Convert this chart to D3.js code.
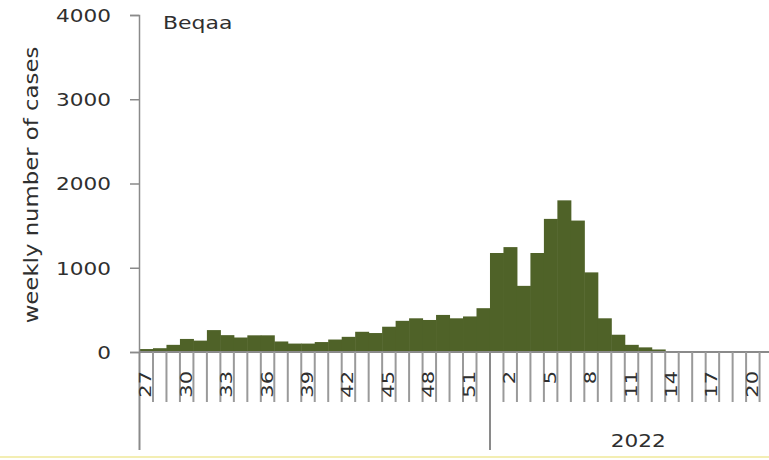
<!DOCTYPE html>
<html>
<head>
<meta charset="utf-8">
<script src="https://cdn.jsdelivr.net/npm/d3@7"></script>
<style>
  body { margin: 0; background: #fff; }
  svg { display: block; }
  text { font-family: "DejaVu Sans", sans-serif; fill: #2f2f2f; }
</style>
</head>
<body>
<div id="chart"></div>
<script>
// weekly cases, Beqaa
const weeks2021 = [27, 28, 29, 30, 31, 32, 33, 34, 35, 36, 37, 38, 39, 40, 41, 42, 43, 44, 45, 46, 47, 48, 49, 50, 51, 52];
const cases2021 = [35, 45, 85, 155, 135, 260, 200, 172, 198, 198, 125, 100, 100, 118, 148, 180, 240, 225, 300, 370, 400, 380, 440, 400, 422, 520];
const weeks2022 = [1, 2, 3, 4, 5, 6, 7, 8, 9, 10, 11, 12, 13, 14, 15, 16, 17, 18, 19, 20, 21, 22];
const cases2022 = [1175, 1245, 785, 1175, 1580, 1800, 1560, 945, 400, 205, 85, 55, 30, 10, 0, 0, 0, 0, 0, 0, 0, 0];
const tickWeeks = [27, 30, 33, 36, 39, 42, 45, 48, 51, 2, 5, 8, 11, 14, 17, 20];
const yTicks = [0, 1000, 2000, 3000, 4000];
const yearLabel = "2022";
const regionName = "Beqaa";

const width = 769, height = 460;
const x0 = 139.5, bw = 13.48;
const base = 352;

const rows = weeks2021.map((w, i) => ({ key: "2021-" + w, year: 2021, week: w, value: cases2021[i] }))
  .concat(weeks2022.map((w, i) => ({ key: "2022-" + w, year: 2022, week: w, value: cases2022[i] })));

var svg = d3.select("#chart").append("svg")
  .attr("width", width)
  .attr("height", height);

const x = d3.scaleBand()
  .domain(rows.map(d => d.key))
  .range([x0, x0 + bw * rows.length])
  .padding(0);

const y = d3.scaleLinear()
  .domain([0, 4000])
  .range([base, 15]);

// bars
svg.append("g")
  .selectAll("rect")
  .data(rows)
  .join("rect")
  .attr("x", d => x(d.key))
  .attr("width", x.bandwidth() + 0.5)
  .attr("y", d => y(d.value))
  .attr("height", d => base - y(d.value))
  .attr("fill", "#4f6228");

// y axis
const yAxis = svg.append("g")
  .attr("transform", `translate(${x0 - 0.5},0)`)
  .call(d3.axisLeft(y).tickValues(yTicks).tickSize(9).tickPadding(0).tickFormat(d3.format("d")));
yAxis.select(".domain").attr("stroke", "#8a8a8a").attr("stroke-width", 1.5);
yAxis.selectAll(".tick line").attr("stroke", "#8a8a8a").attr("stroke-width", 1.5);
yAxis.selectAll(".tick text")
  .attr("x", null).attr("dy", "0.36em")
  .attr("font-size", 18)
  .attr("text-anchor", "end")
  .attr("transform", "translate(-28,0) scale(1.2,1)")
  .style("font-family", "DejaVu Sans")
  .attr("fill", "#2f2f2f");

// x axis line
svg.append("line")
  .attr("x1", x0 - 0.5).attr("x2", width)
  .attr("y1", base).attr("y2", base)
  .attr("stroke", "#8a8a8a").attr("stroke-width", 2);

// category separators
const bounds = rows.map((d, i) => ({ pos: x(d.key), year: i === 0 || rows[i - 1].year !== d.year }));
bounds.push({ pos: x0 + bw * rows.length, year: false });
svg.append("g")
  .selectAll("line")
  .data(bounds)
  .join("line")
  .attr("x1", d => d.pos).attr("x2", d => d.pos)
  .attr("y1", base)
  .attr("y2", d => d.year ? 450 : 402)
  .attr("stroke", d => d.year ? "#8a8a8a" : "#9a9a9a")
  .attr("stroke-width", 2);

// week labels
svg.append("g")
  .selectAll("text")
  .data(rows.filter(d => tickWeeks.includes(d.week)))
  .join("text")
  .attr("transform", d => `translate(${x(d.key) + x.bandwidth() / 2 + 5},371) rotate(-90) scale(1.4,1)`)
  .attr("text-anchor", "end")
  .attr("font-size", 15)
  .text(d => d.week);

// year label
const y22 = rows.filter(d => d.year === 2022);
const yearMid = (x(y22[0].key) + x(y22[y22.length - 1].key) + x.bandwidth()) / 2;
svg.append("text")
  .attr("transform", `translate(${yearMid},447) scale(1.2,1)`)
  .attr("text-anchor", "middle")
  .attr("font-size", 18)
  .text(yearLabel);

// region name
svg.append("text")
  .attr("transform", "translate(163,29) scale(1.22,1)")
  .attr("font-size", 18)
  .text(regionName);

// y title
svg.append("text")
  .attr("transform", "translate(38,185) rotate(-90) scale(1.14,1)")
  .attr("text-anchor", "middle")
  .attr("font-size", 20)
  .text("weekly number of cases");

// thin frame line at the bottom
svg.append("line")
  .attr("x1", 0).attr("x2", width)
  .attr("y1", 457).attr("y2", 457)
  .attr("stroke", "#f3eeb3").attr("stroke-width", 2);
</script>
</body>
</html>
